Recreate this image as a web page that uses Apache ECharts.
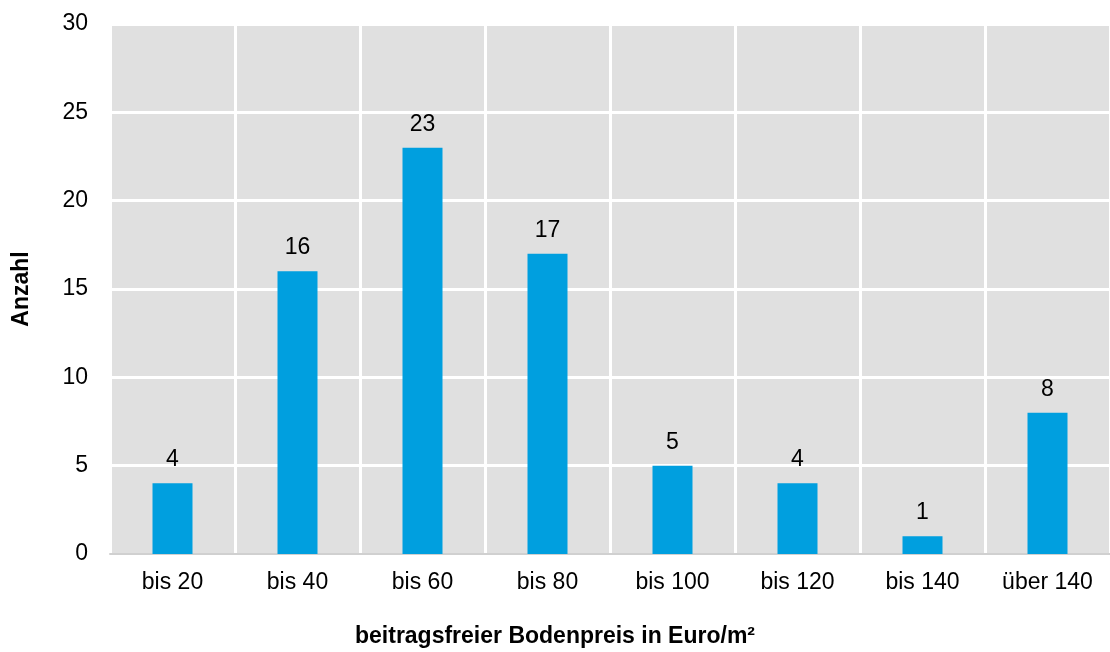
<!DOCTYPE html>
<html><head><meta charset="utf-8">
<script src="https://cdn.jsdelivr.net/npm/echarts@6/dist/echarts.min.js"></script>
<style>html,body{margin:0;padding:0;background:#fff}#c{width:1110px;height:652px}</style>
</head><body><div id="c"></div>
<script>
const categories = ['bis 20','bis 40','bis 60','bis 80','bis 100','bis 120','bis 140','über 140'];
const values = [4,16,23,17,5,4,1,8];
const yTicks = [0,5,10,15,20,25,30];
const yName = 'Anzahl';
const xName = 'beitragsfreier Bodenpreis in Euro/m²';

const font = 'Liberation Sans, Arial, sans-serif';
const chart = echarts.init(document.getElementById('c'));
chart.setOption({
  backgroundColor: '#fff',
  animation: false,
  title: {
    text: xName, left: 'center', top: 620,
    textStyle: {fontFamily: font, fontSize: 23, fontWeight: 'bold', color: '#000'}
  },
  grid: {left: 110, right: 0, top: 24, bottom: 98, show: true, backgroundColor: '#e0e0e0', borderWidth: 0},
  xAxis: {
    type: 'category', data: categories,
    axisLine: {show: true, lineStyle: {color: '#d0d0d0', width: 2}},
    axisTick: {show: false},
    axisLabel: {fontFamily: font, fontSize: 23, color: '#000', margin: 17},
    splitLine: {show: true, lineStyle: {color: '#fff', width: 3}}
  },
  yAxis: {
    type: 'value', min: yTicks[0], max: yTicks[yTicks.length-1], interval: 5,
    name: yName, nameLocation: 'middle', nameGap: 77,
    nameTextStyle: {fontFamily: font, fontSize: 23, fontWeight: 'bold', color: '#000'},
    axisLine: {show: false}, axisTick: {show: false},
    axisLabel: {fontFamily: font, fontSize: 23, color: '#000', margin: 22},
    splitLine: {show: true, lineStyle: {color: '#fff', width: 3}}
  },
  series: [{
    type: 'bar', data: values, barWidth: 40,
    itemStyle: {color: '#009FDF'},
    label: {show: true, position: 'top', distance: 12, fontFamily: font, fontSize: 23, color: '#000'}
  }]
});
</script></body></html>
